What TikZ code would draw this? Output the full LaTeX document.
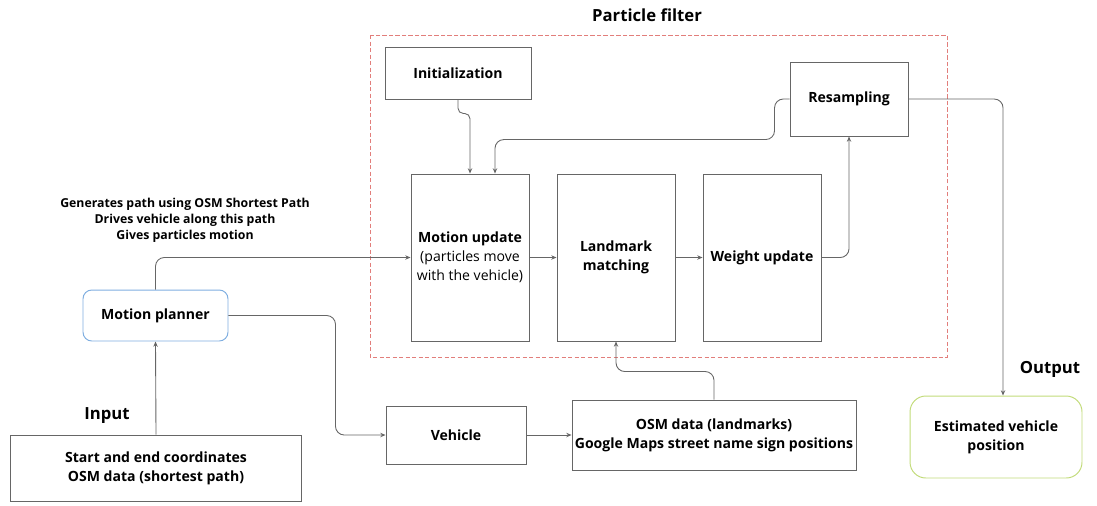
\documentclass[tikz,border=0pt]{standalone}
\usepackage{fontspec}
\setmainfont{Open Sans}
\usetikzlibrary{arrows.meta}

\definecolor{boxline}{HTML}{666666}
\definecolor{pfred}{HTML}{D9534F}
\definecolor{mpblue}{HTML}{7FAEE0}
\definecolor{estgreen}{HTML}{C2DB7A}

\tikzset{
  box/.style={draw=boxline, line width=0.55pt, align=center, inner sep=1pt,
    font=\bfseries\fontsize{8}{10.8}\selectfont},
  conn/.style={draw=boxline, line width=0.5pt, rounded corners=5pt,
    -{Stealth[length=3pt,width=2.5pt]}},
  heading/.style={font=\bfseries\fontsize{9.5}{11}\selectfont}
}

\begin{document}
\begin{tikzpicture}[x=0.02cm,y=-0.02cm]
  \useasboundingbox (0,0) rectangle (1097,505);

  % Particle filter frame
  \draw [pfred!75, dash pattern=on 2.5pt off 1.2pt, line width=0.4pt] (370,35) rectangle (947,357);
  \node [heading] (pftitle) at (647,15) {Particle filter};

  % Particle filter steps
  \node [box, minimum width=2.92cm, minimum height=1.04cm] (init) at (458,73) {Initialization};
  \node [box, minimum width=2.36cm, minimum height=1.48cm] (resamp) at (849,99) {Resampling};
  \node [box, minimum width=2.36cm, minimum height=3.34cm] (motup) at (470,257.5)
    {Motion update\\\mdseries(particles move\\\mdseries with the vehicle)};
  \node [box, minimum width=2.36cm, minimum height=3.34cm] (landm) at (616,257.5) {Landmark\\matching};
  \node [box, minimum width=2.36cm, minimum height=3.34cm] (weight) at (762,257.5) {Weight update};

  % Inputs and planner
  \node [box, draw=mpblue, rounded corners=5pt, minimum width=2.9cm, minimum height=1.02cm] (planner) at (155.5,315.5) {Motion planner};
  \node [font=\bfseries\fontsize{7}{9}\selectfont, align=center] (plandesc) at (185,220)
    {Generates path using OSM Shortest Path\\Drives vehicle along this path\\Gives particles motion};
  \node [heading] (inlabel) at (107,416) {Input};
  \node [box, minimum width=5.84cm, minimum height=1.32cm] (start) at (156,468)
    {Start and end coordinates\\OSM data (shortest path)};
  \node [box, minimum width=2.8cm, minimum height=1.16cm] (vehicle) at (456,435) {Vehicle};
  \node [box, minimum width=5.68cm, minimum height=1.4cm] (osm) at (714,435)
    {OSM data (landmarks)\\Google Maps street name sign positions};

  % Output
  \node [heading] (outlabel) at (1050,369) {Output};
  \node [box, draw=estgreen, rounded corners=9pt, minimum width=3.44cm, minimum height=1.64cm] (estpos) at (996,437)
    {Estimated vehicle\\position};

  % Connectors
  \draw [conn, rounded corners=3pt] (init.south) -- ++(0,14) -| (motup.north);
  \draw [conn] (resamp.west) -- ++(-15,0) |- ([xshift=0.5cm,yshift=0.68cm]motup.north) -- ([xshift=0.5cm]motup.north);
  \draw [conn] (motup.east) -- (landm.west);
  \draw [conn] (landm.east) -- (weight.west);
  \draw [conn] (weight.east) -| (resamp.south);
  \draw [conn] (resamp.east) -| ([xshift=0.14cm]estpos.north);
  \draw [conn] (planner.north) |- (motup.west);
  \draw [conn] (planner.east) -- ++(107,0) |- (vehicle.west);
  \draw [conn] (start.north) -- (planner.south);
  \draw [conn] (vehicle.east) -- (osm.west);
  \draw [conn] (osm.north) -- ++(0,-28) -| (landm.south);
\end{tikzpicture}
\end{document}
